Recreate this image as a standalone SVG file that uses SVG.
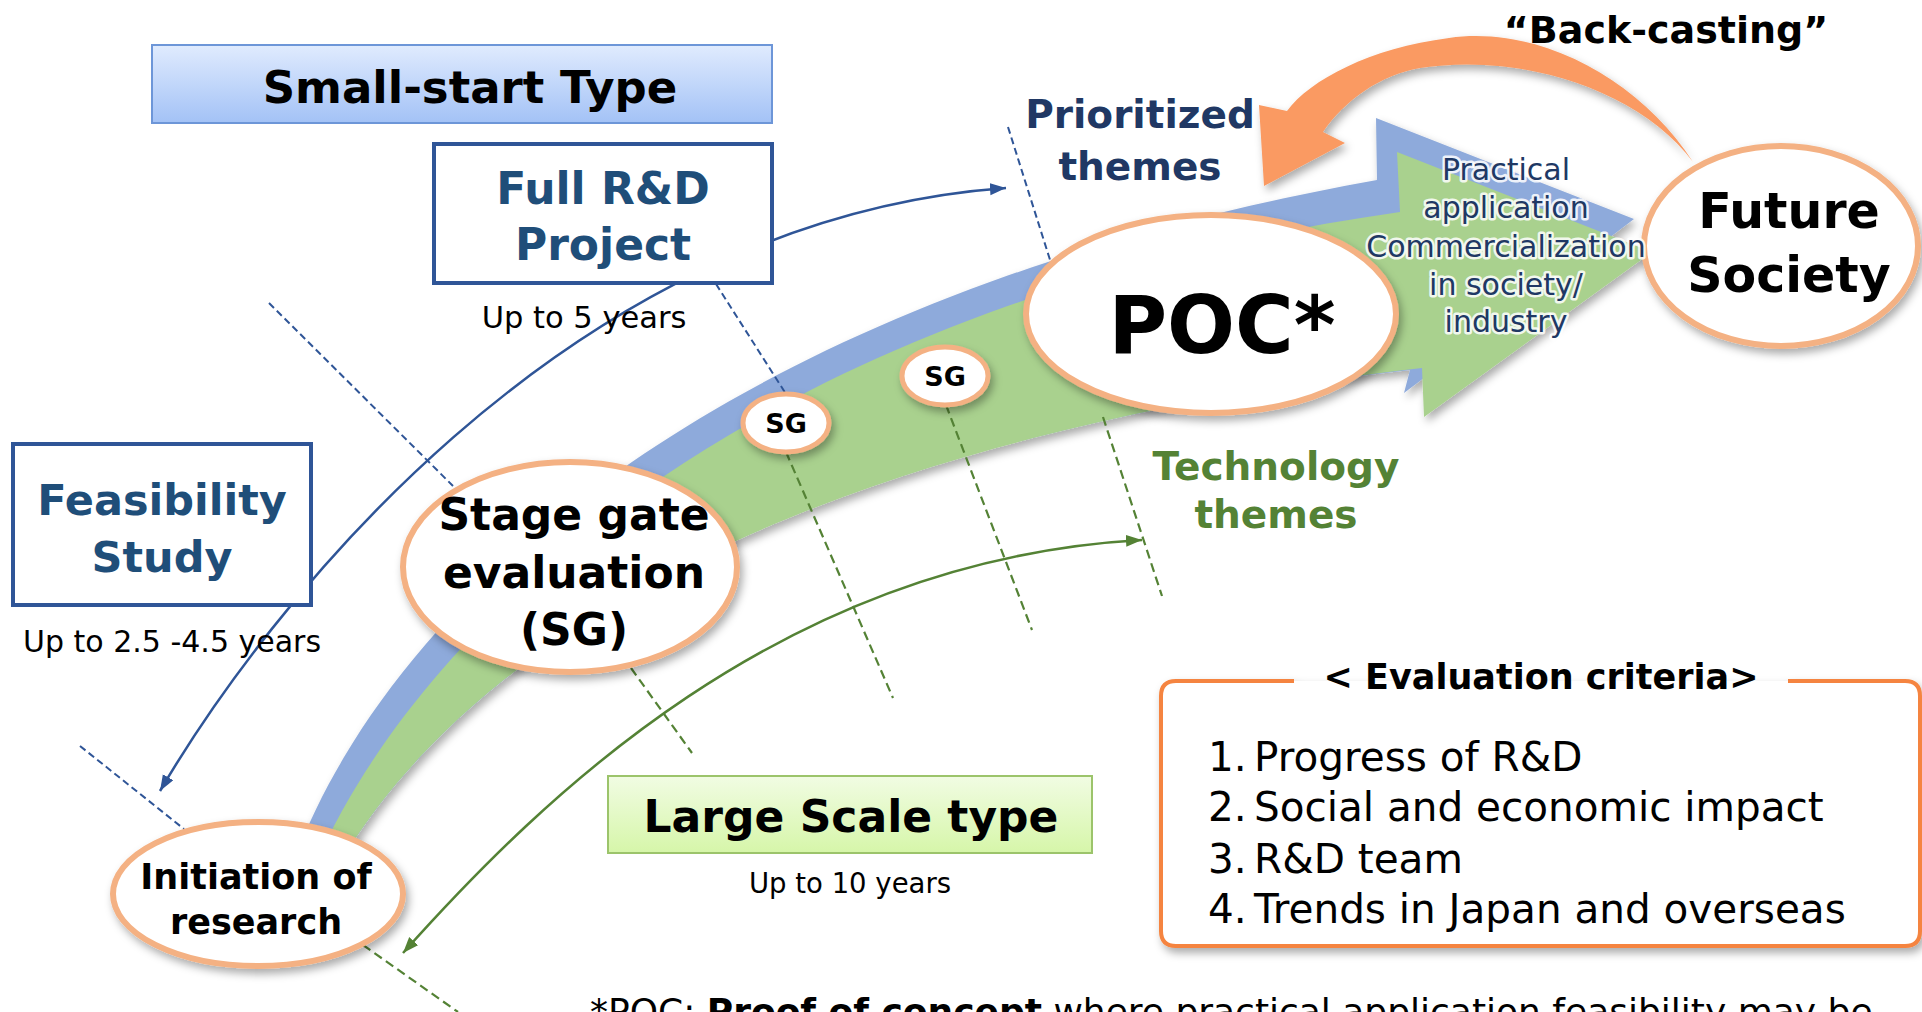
<svg xmlns="http://www.w3.org/2000/svg" width="1922" height="1012" viewBox="0 0 1922 1012">
<defs>
<style>
text{font-family:"DejaVu Sans","Liberation Sans",sans-serif}
.b{font-weight:bold}
.node{fill:#fff;stroke:#f4b183;stroke-width:6}
.sg{fill:#fff;stroke:#f4b183;stroke-width:5}
.bd{fill:none;stroke:#2f5597;stroke-width:2;stroke-dasharray:7 4}
.gd{fill:none;stroke:#548235;stroke-width:2.2;stroke-dasharray:9 5}
.halo{fill:#203864;stroke:#fff;stroke-width:5;stroke-linejoin:round;paint-order:stroke;stroke-opacity:0.85}
</style>
<linearGradient id="gBlue" x1="0" y1="0" x2="0" y2="1">
<stop offset="0" stop-color="#e0ebfe"/><stop offset="1" stop-color="#a3c2f6"/>
</linearGradient>
<linearGradient id="gGreen" x1="0" y1="0" x2="0" y2="1">
<stop offset="0" stop-color="#f1fce3"/><stop offset="1" stop-color="#d6f6a9"/>
</linearGradient>
<filter id="sh" x="-20%" y="-20%" width="140%" height="150%">
<feDropShadow dx="3" dy="5" stdDeviation="4" flood-color="#000" flood-opacity="0.33"/>
</filter>
<marker id="ab" markerUnits="userSpaceOnUse" markerWidth="20" markerHeight="14" refX="16" refY="6" orient="auto-start-reverse" viewBox="0 0 20 14">
<path d="M0,0 L16,6 L0,12 z" fill="#2f5597"/>
</marker>
<marker id="ag" markerUnits="userSpaceOnUse" markerWidth="20" markerHeight="14" refX="16" refY="6" orient="auto-start-reverse" viewBox="0 0 20 14">
<path d="M0,0 L16,6 L0,12 z" fill="#548235"/>
</marker>
</defs>
<rect width="1922" height="1012" fill="#fff"/>

<g id="band" filter="url(#sh)">
<path d="M298,850 C410,570 760,290 1377,180 L1376,118 L1634,219 L1404,393 L1410,370 C800,440 480,640 348,850 Z" fill="#8eaadb"/>
<path d="M322,850 C440,600 780,300 1400,212 L1397,152 L1652,252 L1424,417 L1422,368 C800,440 480,640 348,850 Z" fill="#a9d18e"/>
</g>

<g id="backcasting-arrow" filter="url(#sh)">
<path d="M1693,162 C1640,80 1540,25 1449,38 C1370,48 1310,80 1287,111 L1259,105 L1264,186 L1345,143 L1323,132 C1345,100 1380,75 1420,68 C1520,52 1640,90 1693,162 Z" fill="#fa9a62"/>
</g>

<g id="connectors">
<line class="bd" x1="80" y1="746" x2="184" y2="829"/>
<line class="bd" x1="269" y1="303" x2="453" y2="486"/>
<line class="bd" x1="716" y1="284" x2="786" y2="394"/>
<line class="bd" x1="1008" y1="127" x2="1051" y2="263"/>
<line class="gd" x1="363" y1="945" x2="458" y2="1012"/>
<line class="gd" x1="631" y1="668" x2="692" y2="753"/>
<line class="gd" x1="786" y1="452" x2="893" y2="698"/>
<line class="gd" x1="946" y1="405" x2="1032" y2="630"/>
<line class="gd" x1="1103" y1="417" x2="1162" y2="596"/>
<path d="M160,791 C260,620 560,220 1006,188" fill="none" stroke="#2f5597" stroke-width="2.5" marker-start="url(#ab)" marker-end="url(#ab)"/>
<path d="M403,953 C540,800 780,560 1142,540" fill="none" stroke="#548235" stroke-width="2.5" marker-start="url(#ag)" marker-end="url(#ag)"/>
</g>

<g id="small-start-type">
<rect x="152" y="45" width="620" height="78" fill="url(#gBlue)" stroke="#6d96d8" stroke-width="2"/>
<text class="b" x="470" y="103" font-size="45" text-anchor="middle" fill="#000">Small-start Type</text>
</g>

<g id="full-rd-project">
<rect x="434" y="144" width="338" height="139" fill="#fff" stroke="#2f5597" stroke-width="4"/>
<text class="b" x="603" y="204" font-size="44" text-anchor="middle" fill="#1f4e79">Full R&amp;D</text>
<text class="b" x="603" y="260" font-size="44" text-anchor="middle" fill="#1f4e79">Project</text>
<text x="584" y="328" font-size="30.5" text-anchor="middle" fill="#000">Up to 5 years</text>
</g>

<g id="feasibility-study">
<rect x="13" y="444" width="298" height="161" fill="#fff" stroke="#2f5597" stroke-width="4"/>
<text class="b" x="162" y="515" font-size="43" text-anchor="middle" fill="#1f4e79">Feasibility</text>
<text class="b" x="162" y="572" font-size="43" text-anchor="middle" fill="#1f4e79">Study</text>
<text x="23" y="652" font-size="30" fill="#000">Up to 2.5 -4.5 years</text>
</g>

<g id="initiation">
<ellipse class="node" cx="258" cy="894" rx="145" ry="72" filter="url(#sh)"/>
<text class="b" x="256" y="889" font-size="35" text-anchor="middle" fill="#000">Initiation of</text>
<text class="b" x="256" y="934" font-size="35" text-anchor="middle" fill="#000">research</text>
</g>

<g id="stage-gate">
<ellipse class="node" cx="570" cy="567" rx="167" ry="105" filter="url(#sh)"/>
<text class="b" x="574" y="530" font-size="44" text-anchor="middle" fill="#000">Stage gate</text>
<text class="b" x="574" y="588" font-size="44" text-anchor="middle" fill="#000">evaluation</text>
<text class="b" x="574" y="645" font-size="44" text-anchor="middle" fill="#000">(SG)</text>
</g>

<g id="sg1">
<ellipse class="sg" cx="786" cy="423" rx="43" ry="29" filter="url(#sh)"/>
<text class="b" x="786" y="433" font-size="27" text-anchor="middle" fill="#000">SG</text>
</g>

<g id="sg2">
<ellipse class="sg" cx="945" cy="376" rx="43" ry="29" filter="url(#sh)"/>
<text class="b" x="945" y="386" font-size="27" text-anchor="middle" fill="#000">SG</text>
</g>

<g id="poc">
<ellipse class="node" cx="1211" cy="314" rx="185" ry="99" filter="url(#sh)"/>
<text class="b" x="1222" y="353" font-size="80" text-anchor="middle" fill="#000">POC*</text>
</g>

<g id="future-society">
<ellipse class="node" cx="1781" cy="246" rx="137" ry="100" filter="url(#sh)"/>
<text class="b" x="1789" y="228" font-size="49" text-anchor="middle" fill="#000">Future</text>
<text class="b" x="1789" y="292" font-size="49" text-anchor="middle" fill="#000">Society</text>
</g>

<g id="labels">
<text class="b" x="1666" y="43" font-size="38" text-anchor="middle" fill="#000">“Back-casting”</text>
<text class="b" x="1140" y="128" font-size="39" text-anchor="middle" fill="#203864">Prioritized</text>
<text class="b" x="1140" y="180" font-size="39" text-anchor="middle" fill="#203864">themes</text>
<text class="b" x="1276" y="480" font-size="39" text-anchor="middle" fill="#548235">Technology</text>
<text class="b" x="1276" y="528" font-size="39" text-anchor="middle" fill="#548235">themes</text>
<g font-size="30" text-anchor="middle">
<text class="halo" x="1506" y="180">Practical</text>
<text class="halo" x="1506" y="218">application</text>
<text class="halo" x="1506" y="257">Commercialization</text>
<text class="halo" x="1506" y="295">in society/</text>
<text class="halo" x="1506" y="332">industry</text>
</g>
</g>

<g id="large-scale-type">
<rect x="608" y="776" width="484" height="77" fill="url(#gGreen)" stroke="#9cc46b" stroke-width="2"/>
<text class="b" x="851" y="832" font-size="44" text-anchor="middle" fill="#000">Large Scale type</text>
<text x="850" y="893" font-size="27.5" text-anchor="middle" fill="#000">Up to 10 years</text>
</g>

<g id="evaluation-criteria">
<path d="M1294,681 H1176 Q1161,681 1161,696 V931 Q1161,946 1176,946 H1905 Q1920,946 1920,931 V696 Q1920,681 1905,681 H1788" fill="#fff" stroke="#f5843f" stroke-width="4" filter="url(#sh)"/>
<text class="b" x="1541" y="689" font-size="35" text-anchor="middle" fill="#000">&lt; Evaluation criteria&gt;</text>
<g font-size="40.5" fill="#000">
<text x="1208" y="771">1.</text><text x="1254" y="771">Progress of R&amp;D</text>
<text x="1208" y="821">2.</text><text x="1254" y="821">Social and economic impact</text>
<text x="1208" y="873">3.</text><text x="1254" y="873">R&amp;D team</text>
<text x="1208" y="923">4.</text><text x="1254" y="923">Trends in Japan and overseas</text>
</g>
</g>

<g id="footnote">
<text x="590" y="1024" font-size="36" fill="#000">*POC: <tspan class="b">Proof of concept</tspan> where practical application feasibility may be</text>
</g>
</svg>
